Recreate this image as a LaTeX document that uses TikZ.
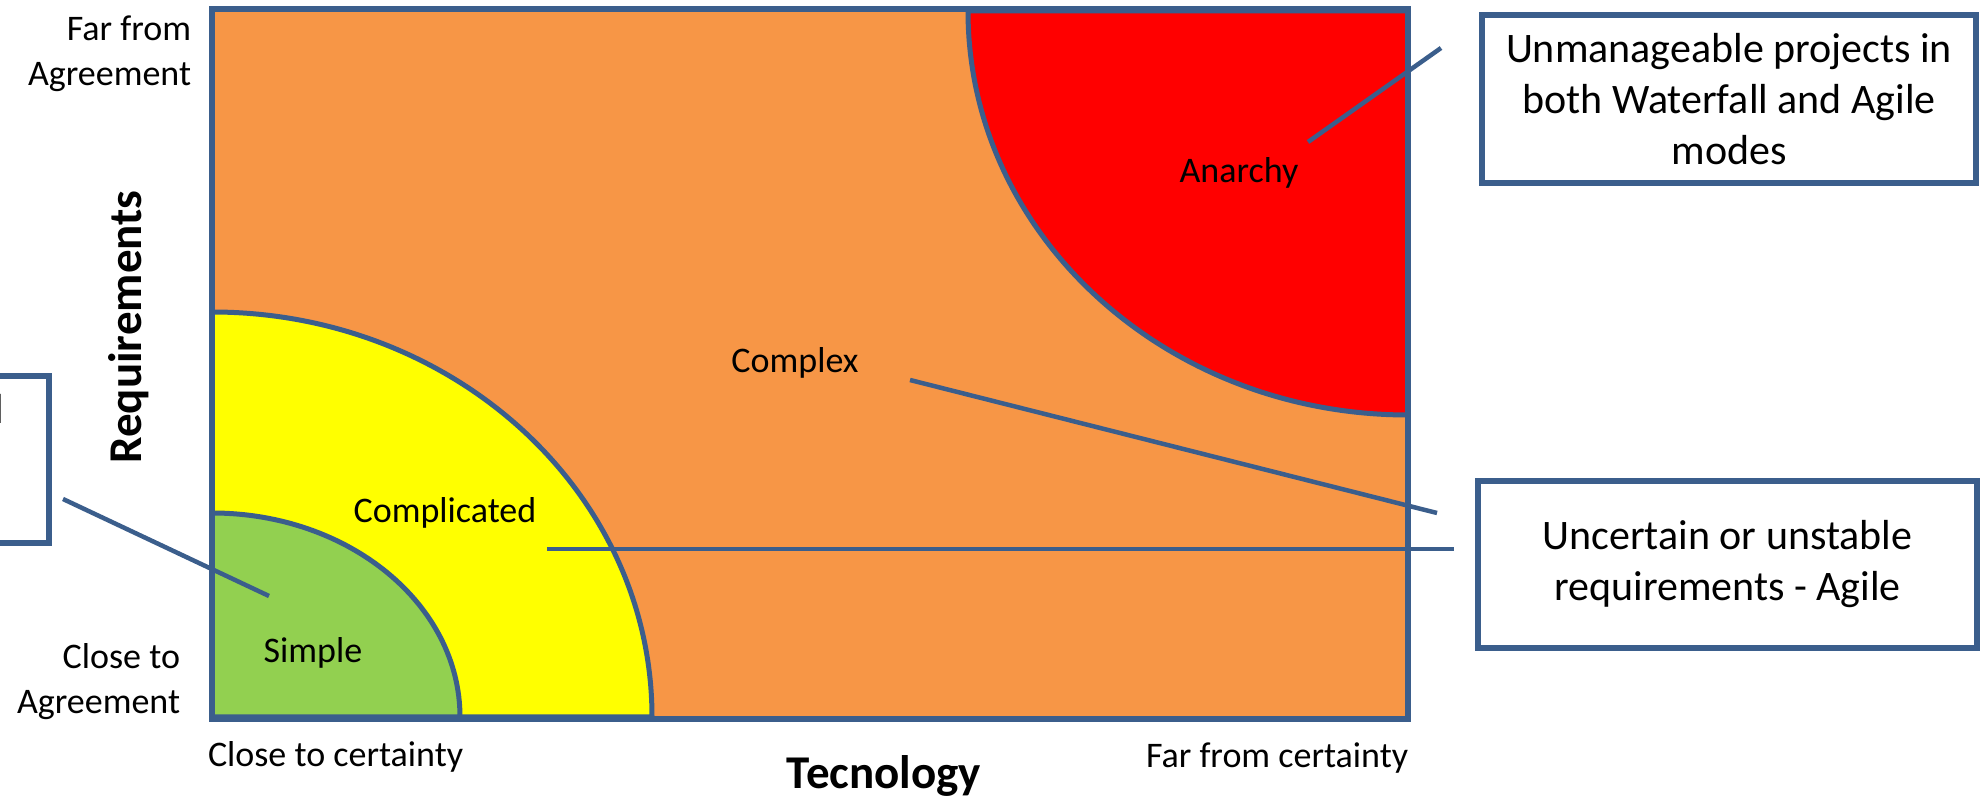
\documentclass[tikz,border=0pt]{standalone}
\usepackage{fontspec}
\setmainfont{Carlito}
\definecolor{edge}{HTML}{3B5E8C}
\definecolor{zoneOrange}{HTML}{F79646}
\definecolor{zoneRed}{HTML}{FF0000}
\definecolor{zoneYellow}{HTML}{FFFF00}
\definecolor{zoneGreen}{HTML}{92D050}
\begin{document}
\begin{tikzpicture}[x=1pt,y=1pt,
  every node/.style={inner sep=0pt, outer sep=0pt},
  lbl/.style={font=\fontsize{36}{45}\selectfont},
  axislbl/.style={font=\fontsize{47}{56}\selectfont\bfseries},
  note/.style={draw=edge, line width=5.5pt, fill=white, align=center,
               font=\fontsize{42}{51}\selectfont},
  region/.style={draw=edge, line width=5pt},
  link/.style={draw=edge, line width=4.5pt}]
\useasboundingbox (0,0) rectangle (1980,800);
\clip (0,0) rectangle (1980,800);

% quadrant background and zones
\fill[zoneOrange] (212,81) rectangle (1408,791);
\path[region, fill=zoneRed] (968,789)
  arc[start angle=180, end angle=270, x radius=440, y radius=404]
  -- (1408,789) -- cycle;
\path[region, fill=zoneYellow] (212,83) -- (212,488)
  arc[start angle=90, end angle=0, x radius=440, y radius=405] -- cycle;
\path[region, fill=zoneGreen] (212,83) -- (212,287)
  arc[start angle=90, end angle=0, x radius=248, y radius=204] -- cycle;
\draw[edge, line width=6.5pt] (212,81) rectangle (1408,791);

% axis labels
\node[lbl, align=right, anchor=east] (farA) at (191,746) {Far from\\Agreement};
\node[lbl, align=right, anchor=east] (closeA) at (180,118) {Close to\\Agreement};
\node[axislbl, rotate=90, anchor=base] (req) at (141,473) {Requirements};
\node[lbl, anchor=base west] (closeC) at (208,33) {Close to certainty};
\node[axislbl, anchor=base] (tech) at (884,11) {Tecnology};
\node[lbl, anchor=base west] (farC) at (1146,32) {Far from certainty};

% zone labels
\node[lbl, anchor=base] (anarchy) at (1239,617) {Anarchy};
\node[lbl, anchor=base] (complex) at (795,427) {Complex};
\node[lbl, anchor=base] (complicated) at (445,277) {Complicated};
\node[lbl, anchor=base] (simple) at (313,137) {Simple};

% callout boxes
\node[note, minimum width=494, minimum height=168] (unman) at (1729,701)
  {Unmanageable projects in\\both Waterfall and Agile\\modes};
\node[note, minimum width=499, minimum height=167] (agile) at (1727.5,235.5)
  {Uncertain or unstable\\requirements - Agile};
\node[note, minimum width=500, minimum height=167] (lbox) at (-201,340.5) {};
\node[font=\fontsize{42}{51}\selectfont, anchor=base east] (lfrag) at (4,376) {l};

% leader lines
\coordinate (a1) at (1441,752); \coordinate (a2) at (1308,658);
\coordinate (b1) at (910,420);  \coordinate (b2) at (1437,287);
\coordinate (c1) at (547,251);  \coordinate (c2) at (1454,251);
\coordinate (d1) at (63,301);   \coordinate (d2) at (269,204);
\draw[link] (a1) -- (a2);
\draw[link] (b1) -- (b2);
\draw[link] (c1) -- (c2);
\draw[link] (d1) -- (d2);
\end{tikzpicture}
\end{document}
